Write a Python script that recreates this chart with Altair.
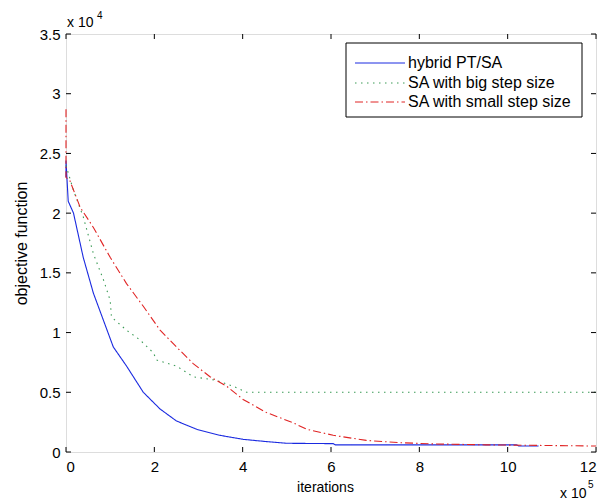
import altair as alt
import pandas as pd

# ---- data (x in units of 1e5 iterations, y in units of 1e4) ----
hybrid_x = [0, 0, 0.05, 0.17, 0.39, 0.62, 0.85, 1.07, 1.37, 1.75, 2.13, 2.5, 2.96, 3.48, 4.01, 4.54, 4.99, 6.05, 6.1, 10.2, 10.25, 10.7]
hybrid_y = [2.3, 2.44, 2.1, 2.0, 1.63, 1.33, 1.1, 0.88, 0.72, 0.50, 0.36, 0.26, 0.19, 0.14, 0.106, 0.087, 0.073, 0.07, 0.06, 0.06, 0.05, 0.05]

big_x = [0, 0.17, 0.39, 0.62, 0.85, 1.0, 1.03, 1.37, 1.67, 1.98, 2.05, 2.5, 2.88, 3.41, 3.79, 4.09, 12]
big_y = [2.4, 2.19, 1.97, 1.66, 1.44, 1.27, 1.13, 1.02, 0.94, 0.83, 0.77, 0.72, 0.63, 0.60, 0.55, 0.50, 0.50]

small_x = [0, 0, 0.09, 0.32, 0.62, 1.0, 1.37, 1.75, 2.13, 2.5, 2.88, 3.26, 3.64, 4.01, 4.54, 5.14, 5.45, 6.05, 6.8, 7.56, 8.3, 9.5, 12]
small_y = [2.87, 2.3, 2.27, 2.05, 1.88, 1.63, 1.41, 1.22, 1.02, 0.88, 0.74, 0.63, 0.55, 0.44, 0.33, 0.245, 0.19, 0.14, 0.097, 0.078, 0.068, 0.06, 0.05]

series_names = ["hybrid PT/SA", "SA with big step size", "SA with small step size"]
series_colors = ["#1a2ae0", "#3a9a55", "#e02424"]
series_dash = [[1, 0], [1.5, 4.5], [8, 3, 1.5, 3]]

x_ticks = [0, 200000, 400000, 600000, 800000, 1000000, 1200000]
y_ticks = [0, 5000, 10000, 15000, 20000, 25000, 30000, 35000]

x_title = "iterations"
y_title = "objective function"
y_mult = "x 10"
y_exp = "4"
x_mult = "x 10"
x_exp = "5"

FONT = "Liberation Sans"

rows = []
for name, xs, ys in zip(series_names, [hybrid_x, big_x, small_x], [hybrid_y, big_y, small_y]):
    for i, (xv, yv) in enumerate(zip(xs, ys)):
        rows.append({"series": name, "idx": i, "it": xv * 1e5, "obj": yv * 1e4})
df = pd.DataFrame(rows)

xscale = alt.Scale(domain=[0, 1200000], nice=False)
yscale = alt.Scale(domain=[0, 35000], nice=False)

lines = alt.Chart(df).mark_line(strokeWidth=1.1).encode(
    x=alt.X("it:Q", scale=xscale, axis=alt.Axis(
        values=x_ticks, labelExpr="datum.value/1e5", title=x_title,
        tickSize=0, domain=False, grid=False, labelPadding=7,
        labelFontSize=15, labelFont=FONT, labelColor="black",
        titleFontSize=14, titleFont=FONT, titleFontWeight="normal", titleColor="black",
        titleX=259, titleY=35, titleBaseline="middle", titleAlign="center")),
    y=alt.Y("obj:Q", scale=yscale, axis=alt.Axis(
        values=y_ticks, labelExpr="datum.value/1e4", title=y_title,
        tickSize=0, domain=False, grid=False, labelPadding=6,
        labelFontSize=15, labelFont=FONT, labelColor="black",
        titleFontSize=16, titleFont=FONT, titleFontWeight="normal", titleColor="black",
        titleX=-45, titleY=209, titleBaseline="middle", titleAlign="center", titleAngle=-90)),
    color=alt.Color("series:N", scale=alt.Scale(domain=series_names, range=series_colors), legend=None),
    strokeDash=alt.StrokeDash("series:N", scale=alt.Scale(domain=series_names, range=series_dash), legend=None),
    order="idx:Q",
)

xt = pd.DataFrame({"t": x_ticks})
yt = pd.DataFrame({"t": y_ticks})
tick_style = dict(color="black", strokeWidth=1)
xb = alt.Chart(xt).mark_rule(**tick_style).encode(x=alt.X("t:Q", scale=xscale), y=alt.value(418), y2=alt.value(413))
xtop = alt.Chart(xt).mark_rule(**tick_style).encode(x=alt.X("t:Q", scale=xscale), y=alt.value(0), y2=alt.value(5))
yl = alt.Chart(yt).mark_rule(**tick_style).encode(y=alt.Y("t:Q", scale=yscale), x=alt.value(0), x2=alt.value(5))
yr = alt.Chart(yt).mark_rule(**tick_style).encode(y=alt.Y("t:Q", scale=yscale), x=alt.value(530), x2=alt.value(525))

one = pd.DataFrame({"a": [0]})
def txt(s, x, y, size):
    return alt.Chart(one).mark_text(text=s, font=FONT, fontSize=size, color="black",
                                    align="left", baseline="alphabetic").encode(x=alt.value(x), y=alt.value(y))

annots = [txt(y_mult, 1, -7, 14), txt(y_exp, 31, -15, 10), txt(x_mult, 494, 464, 14), txt(x_exp, 522, 454, 10)]

# ---- legend box (drawn manually, MATLAB style) ----
leg_x0, leg_y0, leg_x1, leg_y1 = 280, 9, 516, 83
row_y = [29, 49, 68]
leg_box = alt.Chart(one).mark_rect(fill="white", stroke="black", strokeWidth=1).encode(
    x=alt.value(leg_x0), x2=alt.value(leg_x1), y=alt.value(leg_y0), y2=alt.value(leg_y1))
leg_layers = [leg_box]
for name, col, dash, ry in zip(series_names, series_colors, series_dash, row_y):
    leg_layers.append(alt.Chart(one).mark_rule(color=col, strokeWidth=1, strokeDash=dash).encode(
        x=alt.value(289), x2=alt.value(339), y=alt.value(ry)))
    leg_layers.append(alt.Chart(one).mark_text(text=name, font=FONT, fontSize=16, color="black",
                                               align="left", baseline="middle").encode(
        x=alt.value(342), y=alt.value(ry)))

chart = alt.layer(lines, xb, xtop, yl, yr, *annots, *leg_layers).properties(
    width=530, height=418,
    padding={"left": 66, "top": 34, "right": 17, "bottom": 50},
    autosize=alt.AutoSizeParams(type="none"),
).configure_view(stroke="black", strokeWidth=1).configure(background="white")

chart.save("out.html", embed_options={"renderer": "svg", "actions": False})
